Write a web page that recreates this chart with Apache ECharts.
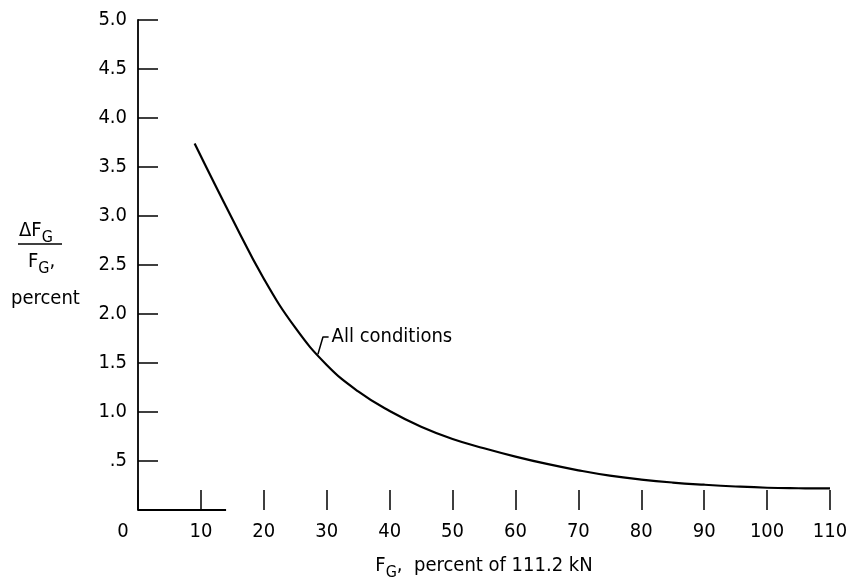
<!DOCTYPE html>
<html>
<head>
<meta charset="utf-8">
<script src="https://cdn.jsdelivr.net/npm/echarts@6/dist/echarts.min.js"></script>
<style>
html,body{margin:0;padding:0;background:#fff;}
#c{width:849px;height:581px;}
</style>
</head>
<body>
<div id="c"></div>
<script>
// Data
var curveX = [9, 15, 20, 25, 30, 35, 40, 45, 50, 55, 60, 65, 70, 75, 80, 85, 90, 95, 100, 105, 110];
var curveY = [3.74, 2.97, 2.36, 1.86, 1.48, 1.21, 1.01, 0.85, 0.725, 0.63, 0.545, 0.47, 0.405, 0.35, 0.31, 0.28, 0.258, 0.24, 0.227, 0.222, 0.22];
var baseX = [0, 14];          // short drawn stub of the x-axis line
var baseY = [0, 0];
var leaderX = [28.6, 29.4, 30.3];  // "All conditions" leader
var leaderY = [1.59, 1.765, 1.765];
var annotText = 'All conditions';
var xTickLabels = ['0','10','20','30','40','50','60','70','80','90','100','110'];
var yTickLabels = ['', '.5', '1.0', '1.5', '2.0', '2.5', '3.0', '3.5', '4.0', '4.5', '5.0'];

var FONT = '"Liberation Sans Narrow", "DejaVu Sans Condensed", "Liberation Sans", sans-serif';
var FS = 20;

var chart = echarts.init(document.getElementById('c'), null, {renderer: 'canvas'});
var option = {
  animation: false,
  backgroundColor: '#fff',
  grid: {left: 138, right: 19, top: 20, bottom: 71, containLabel: false, outerBoundsMode: 'none'},
  xAxis: {
    type: 'value', min: 0, max: 110, interval: 10,
    axisLine: {show: false},
    axisTick: {show: true, inside: true, length: 20, lineStyle: {color: '#000', width: 1.5}},
    splitLine: {show: false},
    axisLabel: {
      margin: 12, color: '#000', fontFamily: FONT, fontSize: FS,
      formatter: function (v) {
        var i = Math.round(v / 10);
        var s = xTickLabels[i];
        return i === 0 ? '{z|' + s + '}' : s;
      },
      rich: {z: {fontFamily: FONT, fontSize: FS, color: '#000', padding: [0, 30, 0, 0]}}
    },
    name: '{a|F}{s|G}{a|,  percent of 111.2 kN}',
    nameLocation: 'middle', nameGap: 41,
    nameTextStyle: {
      rich: {
        a: {fontFamily: FONT, fontSize: FS, color: '#000'},
        s: {fontFamily: FONT, fontSize: 16, color: '#000', padding: [14, 0, 0, 0]}
      }
    }
  },
  yAxis: {
    type: 'value', min: 0, max: 5, interval: 0.5,
    axisLine: {show: true, lineStyle: {color: '#000', width: 1.8}},
    axisTick: {show: true, inside: true, length: 20, lineStyle: {color: '#000', width: 1.5}},
    splitLine: {show: false},
    axisLabel: {
      margin: 11, color: '#000', fontFamily: FONT, fontSize: FS,
      formatter: function (v) { return yTickLabels[Math.round(v / 0.5)]; }
    }
  },
  graphic: [
    {type: 'text', left: 19, top: 221, style: {text: '{a|ΔF}{s|G}', rich: {a: {fontFamily: FONT, fontSize: FS, fill: '#000'}, s: {fontFamily: FONT, fontSize: 16, fill: '#000', padding: [14, 0, 0, 0]}}}},
    {type: 'line', shape: {x1: 18, y1: 244, x2: 62, y2: 244}, style: {stroke: '#000', lineWidth: 1.5}},
    {type: 'text', left: 28, top: 252, style: {text: '{a|F}{s|G}{a|,}', rich: {a: {fontFamily: FONT, fontSize: FS, fill: '#000'}, s: {fontFamily: FONT, fontSize: 16, fill: '#000', padding: [14, 0, 0, 0]}}}},
    {type: 'text', left: 11, top: 289, style: {text: 'percent', fontFamily: FONT, fontSize: FS, fill: '#000'}}
  ],
  series: [
    {
      type: 'line', data: curveX.map(function (x, i) { return [x, curveY[i]]; }),
      smooth: 0.45, showSymbol: false, symbol: 'none',
      lineStyle: {color: '#000', width: 2.2},
      markPoint: {
        symbol: 'circle', symbolSize: 0,
        data: [{coord: [leaderX[2], leaderY[2]], value: annotText}],
        label: {show: true, position: 'right', distance: 3, formatter: annotText, color: '#000', fontFamily: FONT, fontSize: FS}
      }
    },
    {
      type: 'line', data: leaderX.map(function (x, i) { return [x, leaderY[i]]; }),
      showSymbol: false, symbol: 'none', lineStyle: {color: '#000', width: 1.5}
    },
    {
      type: 'line', data: baseX.map(function (x, i) { return [x, baseY[i]]; }),
      showSymbol: false, symbol: 'none', lineStyle: {color: '#000', width: 1.8}
    }
  ]
};
chart.setOption(option);
</script>
</body>
</html>
